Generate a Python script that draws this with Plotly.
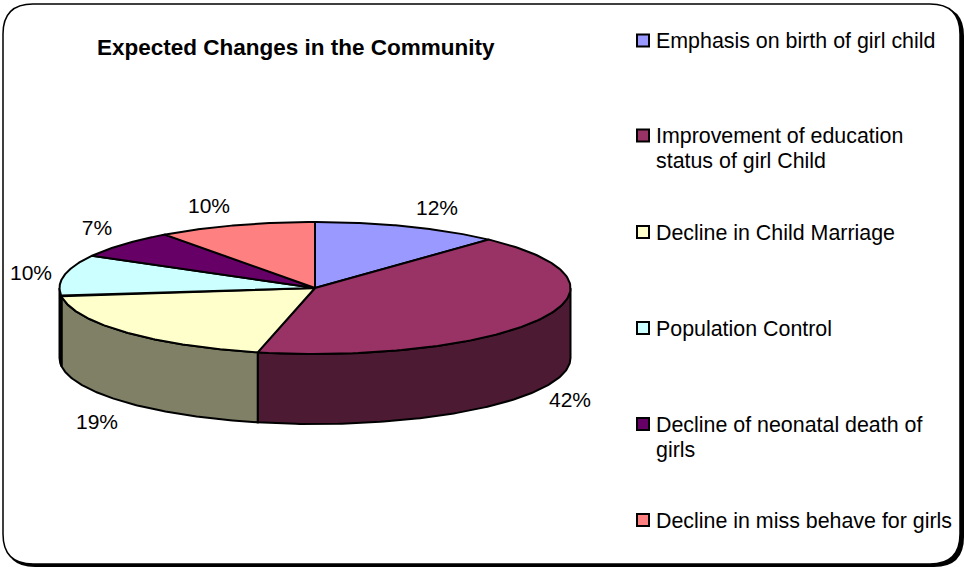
import numpy as np
import plotly.graph_objects as go

TITLE = "Expected Changes in the Community"
categories = ["Emphasis on birth of girl child",
              "Improvement of education<br>status of girl Child",
              "Decline in Child Marriage",
              "Population Control",
              "Decline of neonatal death of<br>girls",
              "Decline in miss behave for girls"]
values = [11.9, 41.7, 19.4, 10.1, 6.9, 10.0]
labels = ["12%", "42%", "19%", "10%", "7%", "10%"]
colors = ["#9999FF", "#993366", "#FFFFCC", "#CCFFFF", "#660066", "#FF8080"]
side_colors = ["#4D4D80", "#4D1A33", "#808066", "#668080", "#330033", "#804040"]

# layout helpers (pixels on hidden axes)
CX, CY, RX, RY, DEPTH = 315, 288, 255.5, 66, 70
legend_y = [41, 136, 233, 329, 425, 521]
key_y = [40.5, 135.5, 232, 328, 424, 520]
LEGEND_LINE = 25
label_pos = [(437, 210), (570, 402), (97, 424), (31, 275), (97, 230), (209, 208)]
FONT = "Liberation Sans"


def rim(t):
    return CX + RX * np.sin(t), CY - RY * np.cos(t)


fig = go.Figure()
LINE = dict(color="black", width=2)

# pie side walls, only the front half of the rim is visible
cum = np.concatenate([[0], np.cumsum(values)]) / sum(values) * 2 * np.pi
for i in range(len(values)):
    a, b = max(cum[i], np.pi / 2), min(cum[i + 1], 3 * np.pi / 2)
    if a >= b:
        continue
    t = np.linspace(a, b, 120)
    x, y = rim(t)
    fig.add_trace(go.Scatter(
        x=np.concatenate([x, x[::-1], x[:1]]),
        y=np.concatenate([y, y[::-1] + DEPTH, y[:1]]),
        mode="lines", fill="toself", fillcolor=side_colors[i], line=LINE,
        hoverinfo="skip", showlegend=False))

# pie top slices
for i in range(len(values)):
    t = np.linspace(cum[i], cum[i + 1], 120)
    x, y = rim(t)
    fig.add_trace(go.Scatter(
        x=np.concatenate([[CX], x, [CX]]),
        y=np.concatenate([[CY], y, [CY]]),
        mode="lines", fill="toself", fillcolor=colors[i], line=LINE,
        name=categories[i].replace("<br>", " "), hoverinfo="name", showlegend=False))

# percentage labels
fig.add_trace(go.Scatter(
    x=[p[0] for p in label_pos], y=[p[1] for p in label_pos],
    mode="text", text=labels,
    textfont=dict(family=FONT, size=21, color="black"),
    hoverinfo="skip", showlegend=False))

# legend keys
fig.add_trace(go.Scatter(
    x=[643] * len(values), y=key_y, mode="markers",
    marker=dict(symbol="square", size=12, color=colors, line=dict(color="black", width=2)),
    hoverinfo="skip", showlegend=False))

annotations = [dict(x=296, y=47, text=f"<b>{TITLE}</b>", showarrow=False,
                    font=dict(family=FONT, size=22.5, color="black"),
                    xref="x", yref="y")]
for cat, ly in zip(categories, legend_y):
    for k, part in enumerate(cat.split("<br>")):
        annotations.append(dict(x=655, y=ly + k * LEGEND_LINE, text=part, showarrow=False,
                                xanchor="left", align="left", xref="x", yref="y",
                                borderpad=0,
                                font=dict(family=FONT, size=21.4, color="black")))


def rrect(x0, y0, x1, y1, r):
    return (f"M{x0+r},{y0} L{x1-r},{y0} Q{x1},{y0} {x1},{y0+r} L{x1},{y1-r} "
            f"Q{x1},{y1} {x1-r},{y1} L{x0+r},{y1} Q{x0},{y1} {x0},{y1-r} "
            f"L{x0},{y0+r} Q{x0},{y0} {x0+r},{y0} Z")


shapes = [
    dict(type="path", path=rrect(5, 6, 964, 567, 30), xref="x", yref="y",
         fillcolor="black", line=dict(width=0), layer="below"),
    dict(type="path", path=rrect(3, 4, 960, 564, 30), xref="x", yref="y",
         fillcolor="white", line=dict(color="black", width=1.5), layer="below"),
]

fig.update_layout(
    width=964, height=567, margin=dict(l=0, r=0, t=0, b=0),
    paper_bgcolor="white", plot_bgcolor="white",
    xaxis=dict(range=[0, 964], visible=False, fixedrange=True),
    yaxis=dict(range=[567, 0], visible=False, fixedrange=True),
    annotations=annotations, shapes=shapes)

fig.write_html("out.html", post_script="document.body.style.margin='0';",
               config=dict(displayModeBar=False))
